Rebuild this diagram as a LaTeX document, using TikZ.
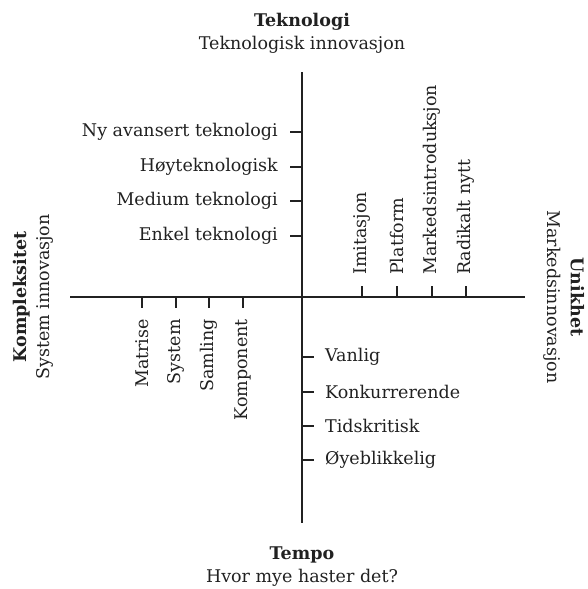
\documentclass[tikz,border=0pt]{standalone}
\usepackage{fontspec}
\setmainfont{DejaVu Serif}
\begin{document}
\begin{tikzpicture}[x=1pt,y=-1pt,
  axis/.style={line width=1.9pt,color=black!87},
  tick/.style={line width=1.9pt,color=black!87},
  lbl/.style={font=\fontsize{17.5}{21}\selectfont,text=black!87,inner sep=0pt},
  ttl/.style={font=\fontsize{17.5}{23}\selectfont,text=black!87,align=center,inner sep=0pt}]
\useasboundingbox (0,0) rectangle (587,589);

% axes, crossing at (302,297)
\coordinate (top) at (302,72);
\coordinate (bot) at (302,523);
\coordinate (left) at (70,297);
\coordinate (right) at (525,297);
\draw[axis] (top) -- (bot);
\draw[axis] (left) -- (right);

% axis titles
\node[ttl] (tTop) at (302,33) {\textbf{Teknologi}\\Teknologisk innovasjon};
\node[ttl] (tBot) at (302,567) {\textbf{Tempo}\\Hvor mye haster det?};
\node[ttl,rotate=90] (tLeft) at (33,297) {\textbf{Kompleksitet}\\System innovasjon};
\node[ttl,rotate=-90] (tRight) at (564,297) {\textbf{Unikhet}\\Markedsinnovasjon};

% technology levels (upper left)
\foreach \y/\t [count=\i] in {132/Ny avansert teknologi,167/Høyteknologisk,201/Medium teknologi,236/Enkel teknologi}{
  \coordinate (ta\i) at (290,\y);
  \coordinate (tb\i) at (302,\y);
  \draw[tick] (ta\i) -- (tb\i);
  \node[lbl,anchor=east] (tl\i) at (278,\y) {\t};
}

% complexity levels (lower left)
\foreach \x/\t [count=\i] in {142/Matrise,176/System,209/Samling,243/Komponent}{
  \coordinate (ca\i) at (\x,297);
  \coordinate (cb\i) at (\x,308);
  \draw[tick] (ca\i) -- (cb\i);
  \node[lbl,rotate=90,anchor=east] (cl\i) at (\x,319) {\t};
}

% novelty levels (upper right)
\foreach \x/\t [count=\i] in {362/Imitasjon,397/Platform,432/Markedsintroduksjon,466/Radikalt nytt}{
  \coordinate (ua\i) at (\x,286);
  \coordinate (ub\i) at (\x,297);
  \draw[tick] (ua\i) -- (ub\i);
  \node[lbl,rotate=90,anchor=west] (ul\i) at (\x,275) {\t};
}

% pace levels (lower right)
\foreach \y/\t [count=\i] in {357/Vanlig,392/Konkurrerende,426/Tidskritisk,460/Øyeblikkelig}{
  \coordinate (pa\i) at (302,\y);
  \coordinate (pb\i) at (314,\y);
  \draw[tick] (pa\i) -- (pb\i);
  \node[lbl,anchor=west] (pl\i) at (325,\y) {\t};
}
\end{tikzpicture}
\end{document}
